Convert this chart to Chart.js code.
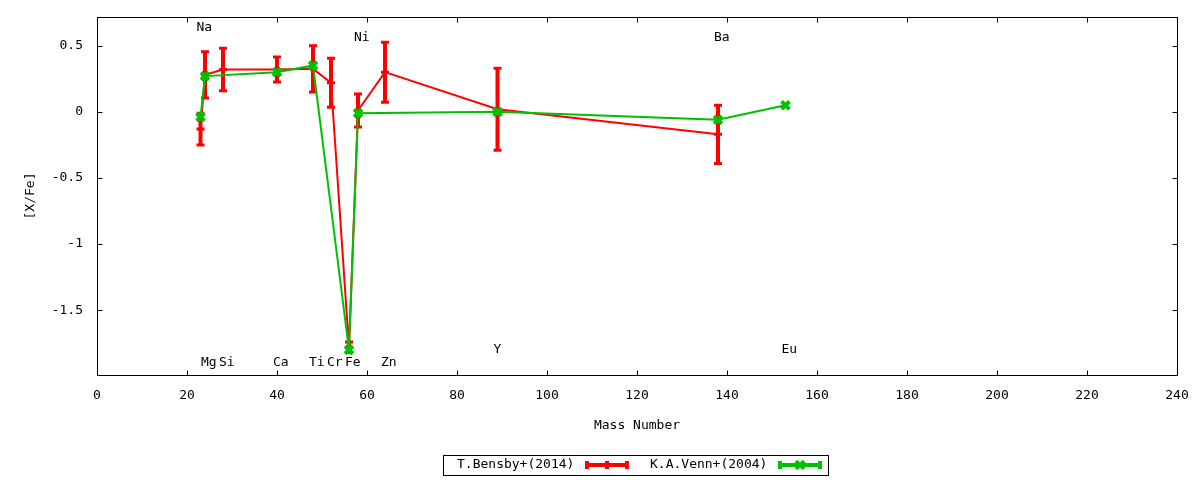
<!DOCTYPE html>
<html lang="en">
<head>
<meta charset="UTF-8">
<title>[X/Fe] vs Mass Number</title>
<script src="https://cdn.jsdelivr.net/npm/chart.js@4.4.0"></script>
<style>
    html, body { margin: 0; padding: 0; background: #fff; }
    #chartBox { width: 1200px; height: 480px; }
</style>
</head>
<body>
<div id="chartBox"><canvas id="abundChart"></canvas></div>
<script>
    // T.Bensby+(2014): mass number, [X/Fe], error
    const bensbyMass = [23, 24, 28, 40, 48, 52, 56, 58, 64, 89, 138];
    const bensbyXFe  = [-0.13, 0.28, 0.32, 0.32, 0.325, 0.22, -1.78, 0.01, 0.30, 0.02, -0.17];
    const bensbyErr  = [0.12, 0.175, 0.16, 0.095, 0.175, 0.185, 0.04, 0.125, 0.227, 0.31, 0.22];

    // K.A.Venn+(2004)
    const vennMass = [23, 24, 40, 48, 56, 58, 89, 138, 153];
    const vennXFe  = [-0.04, 0.27, 0.30, 0.35, -1.80, -0.01, 0.00, -0.06, 0.05];

    // element name labels, placed at (mass, y)
    const labelText = ['Na', 'Mg', 'Si', 'Ca', 'Ti', 'Cr', 'Fe', 'Ni', 'Zn', 'Y', 'Ba', 'Eu'];
    const labelMass = [23, 24, 28, 40, 48, 52, 56, 58, 64, 89, 138, 153];
    const labelY    = [0.64, -1.90, -1.90, -1.90, -1.90, -1.90, -1.90, 0.56, -1.90, -1.80, 0.56, -1.80];

    const yTicks = [-1.5, -1, -0.5, 0, 0.5];

    const RED = '#ff0000';
    const GREEN = '#00c000';
    const FONT = '13px "DejaVu Sans Mono"';

    Chart.defaults.font.family = '"DejaVu Sans Mono", monospace';
    Chart.defaults.font.size = 13;
    Chart.defaults.color = '#000';

    // vertical error bars of the Bensby series, drawn just before that series
    const errorBars = {
        id: 'errorBars',
        beforeDatasetDraw(chart, args) {
            if (args.index !== 0) return;
            const { ctx, scales: { x, y } } = chart;
            ctx.save();
            ctx.strokeStyle = RED;
            bensbyMass.forEach((m, i) => {
                const px = x.getPixelForValue(m);
                const top = y.getPixelForValue(bensbyXFe[i] + bensbyErr[i]);
                const bot = y.getPixelForValue(bensbyXFe[i] - bensbyErr[i]);
                ctx.lineWidth = 4;
                ctx.beginPath();
                ctx.moveTo(px, top);
                ctx.lineTo(px, bot);
                ctx.stroke();
                ctx.lineWidth = 3;
                ctx.beginPath();
                ctx.moveTo(px - 4, top); ctx.lineTo(px + 4, top);
                ctx.moveTo(px - 4, bot); ctx.lineTo(px + 4, bot);
                ctx.stroke();
            });
            ctx.restore();
        }
    };

    // element names
    const elementLabels = {
        id: 'elementLabels',
        afterDatasetsDraw(chart) {
            const { ctx, scales: { x, y } } = chart;
            ctx.save();
            ctx.font = FONT;
            ctx.fillStyle = '#000';
            ctx.textAlign = 'left';
            ctx.textBaseline = 'middle';
            labelText.forEach((t, i) => {
                ctx.fillText(t, x.getPixelForValue(labelMass[i]) - 4, y.getPixelForValue(labelY[i]));
            });
            ctx.restore();
        }
    };

    // gnuplot style box with inward ticks on all four sides
    const frame = {
        id: 'frame',
        afterDraw(chart) {
            const { ctx, chartArea: a, scales: { x, y } } = chart;
            const L = Math.round(a.left) + 0.5, R = Math.round(a.right) + 0.5;
            const T = Math.round(a.top) + 0.5, B = Math.round(a.bottom) + 0.5;
            ctx.save();
            ctx.strokeStyle = '#000';
            ctx.lineWidth = 1;
            ctx.strokeRect(L, T, R - L, B - T);
            ctx.beginPath();
            x.ticks.forEach(t => {
                const px = Math.round(x.getPixelForValue(t.value)) + 0.5;
                ctx.moveTo(px, B); ctx.lineTo(px, B - 5);
                ctx.moveTo(px, T); ctx.lineTo(px, T + 5);
            });
            y.ticks.forEach(t => {
                const py = Math.round(y.getPixelForValue(t.value)) + 0.5;
                ctx.moveTo(L, py); ctx.lineTo(L + 5, py);
                ctx.moveTo(R, py); ctx.lineTo(R - 5, py);
            });
            ctx.stroke();
            ctx.restore();
        }
    };

    // key below the plot: text first, then the line sample
    const keyBox = {
        id: 'keyBox',
        afterDraw(chart) {
            const ctx = chart.ctx;
            const ds = chart.data.datasets;
            ctx.save();
            ctx.strokeStyle = '#000';
            ctx.lineWidth = 1;
            ctx.strokeRect(443.5, 455.5, 385, 20);
            ctx.font = FONT;
            ctx.fillStyle = '#000';
            ctx.textBaseline = 'middle';
            ctx.fillText(ds[0].label, 457, 465);
            ctx.fillText(ds[1].label, 650, 465);

            const sample = (x0, x1, color, marker) => {
                const yc = 465;
                ctx.strokeStyle = color;
                ctx.lineWidth = 4;
                ctx.beginPath();
                ctx.moveTo(x0, yc); ctx.lineTo(x1, yc);
                ctx.moveTo(x0 + 2, yc - 4); ctx.lineTo(x0 + 2, yc + 4);
                ctx.moveTo(x1 - 2, yc - 4); ctx.lineTo(x1 - 2, yc + 4);
                ctx.stroke();
                const xm = (x0 + x1) / 2;
                ctx.beginPath();
                if (marker === 'plus') {
                    ctx.lineWidth = 4;
                    ctx.moveTo(xm, yc - 4); ctx.lineTo(xm, yc + 4);
                } else {
                    ctx.lineWidth = 3.5;
                    ctx.moveTo(xm - 4, yc - 4); ctx.lineTo(xm + 4, yc + 4);
                    ctx.moveTo(xm - 4, yc + 4); ctx.lineTo(xm + 4, yc - 4);
                }
                ctx.stroke();
            };
            sample(585, 629, RED, 'plus');
            sample(778, 822, GREEN, 'cross');
            ctx.restore();
        }
    };

    const ctx = document.getElementById('abundChart').getContext('2d');
    const abundChart = new Chart(ctx, {
        type: 'scatter',
        data: {
            datasets: [{
                label: 'T.Bensby+(2014)',
                data: bensbyMass.map((m, i) => ({ x: m, y: bensbyXFe[i] })),
                showLine: true,
                borderColor: RED,
                backgroundColor: RED,
                borderWidth: 2,
                pointStyle: 'cross',
                pointRadius: 4,
                pointBorderWidth: 3,
                order: 1
            }, {
                label: 'K.A.Venn+(2004)',
                data: vennMass.map((m, i) => ({ x: m, y: vennXFe[i] })),
                showLine: true,
                borderColor: GREEN,
                backgroundColor: GREEN,
                borderWidth: 2,
                pointStyle: 'crossRot',
                pointRadius: 5.5,
                pointBorderWidth: 4,
                order: 0
            }]
        },
        options: {
            responsive: true,
            maintainAspectRatio: false,
            animation: false,
            layout: { padding: { left: 0, top: 17, right: 23, bottom: 0 } },
            scales: {
                x: {
                    type: 'linear',
                    min: 0,
                    max: 240,
                    ticks: { stepSize: 20, padding: 13, maxRotation: 0 },
                    grid: { display: false, drawTicks: false },
                    border: { display: false },
                    title: { display: true, text: 'Mass Number', padding: { top: 0, bottom: 47 } },
                    afterFit(scale) {
                        scale.height = 105;
                        scale.paddingLeft = 0;
                        scale.paddingRight = 0;
                    }
                },
                y: {
                    min: -1.99,
                    max: 0.717,
                    afterBuildTicks(scale) { scale.ticks = yTicks.map(v => ({ value: v })); },
                    ticks: { padding: 14, callback: v => String(v) },
                    grid: { display: false, drawTicks: false },
                    border: { display: false },
                    title: { display: true, text: '[X/Fe]', padding: { top: 23, bottom: 0 } },
                    afterFit(scale) {
                        scale.width = 97;
                        scale.paddingTop = 0;
                        scale.paddingBottom = 0;
                    }
                }
            },
            plugins: {
                legend: { display: false },
                tooltip: { enabled: false }
            }
        },
        plugins: [errorBars, elementLabels, frame, keyBox]
    });
</script>
</body>
</html>
